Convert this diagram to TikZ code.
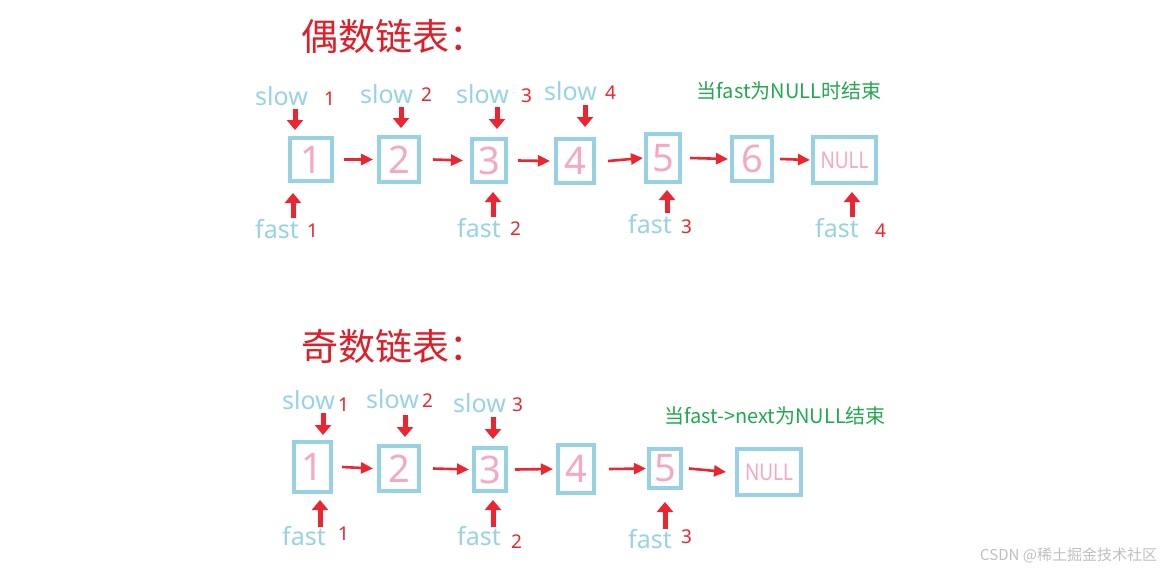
\documentclass[tikz,border=0pt]{standalone}
\usepackage{fontspec}
\setmainfont{Noto Sans}
\newfontfamily\cjk{Noto Sans CJK SC}
\usetikzlibrary{arrows.meta}
\definecolor{boxblue}{RGB}{150,210,228}
\definecolor{ptrblue}{RGB}{150,212,228}
\definecolor{digitpink}{RGB}{245,168,195}
\definecolor{arrowred}{RGB}{235,38,48}
\definecolor{titlered}{RGB}{225,30,40}
\definecolor{notegreen}{RGB}{34,168,78}
\tikzset{
  lbox/.style={draw=boxblue, line width=4pt, inner sep=0pt, text=digitpink, font=\fontsize{38}{40}\selectfont},
  nullbox/.style={lbox, font=\fontsize{21}{23}\selectfont},
  harrow/.style={draw=arrowred, line width=2.6pt, -{Triangle[length=12pt,width=11pt]}},
  varrow/.style={draw=arrowred, line width=5pt, -{Triangle[length=10pt,width=16pt]}},
  ptr/.style={text=ptrblue, inner sep=0pt, anchor=base west, font=\fontsize{25}{28}\selectfont},
  idx/.style={text=arrowred, inner sep=0pt, anchor=base west, font=\fontsize{19}{21}\selectfont},
  ttl/.style={text=titlered, inner sep=0pt, anchor=west, font=\cjk\fontsize{37}{40}\selectfont},
  note/.style={text=notegreen, inner sep=0pt, font=\cjk\fontsize{20}{22}\selectfont},
  wmark/.style={text=black!25, inner sep=0pt, font=\cjk\fontsize{15}{17}\selectfont},
}
\begin{document}
\begin{tikzpicture}[x=1pt,y=-1pt]
\useasboundingbox[fill=white] (0,0) rectangle (1173,574);

% ---------- titles ----------
\node[ttl] (title1) at (301,36) {偶数链表：};
\node[ttl] (title2) at (301,346) {奇数链表：};

% ---------- top row (even) ----------
\node[lbox, minimum width=42pt, minimum height=43pt] (t1) at (311,159.5) {1};
\node[lbox, minimum width=40pt, minimum height=45pt] (t2) at (399,159.5) {2};
\node[lbox, minimum width=34pt, minimum height=43pt] (t3) at (489,160.5) {3};
\node[lbox, minimum width=38pt, minimum height=44pt] (t4) at (575,161) {4};
\node[lbox, minimum width=34pt, minimum height=48pt] (t5) at (663,158) {5};
\node[lbox, minimum width=40pt, minimum height=44pt] (t6) at (752,159) {6};
\node[nullbox, minimum width=63pt, minimum height=46pt] (tN) at (844.5,160) {\scalebox{0.9}[1.1]{NULL}};

\draw[harrow] ([xshift=10pt]t1.east) -- ([xshift=-4pt]t2.west);
\draw[harrow] ([xshift=12pt]t2.east) -- ([xshift=-7pt]t3.west);
\draw[harrow] ([xshift=10pt]t3.east) -- ([xshift=-4pt]t4.west);
\draw[harrow] ([xshift=12pt]t4.east) -- ([xshift=-1pt]t5.west);
\draw[harrow] ([xshift=8pt]t5.east) -- ([xshift=-2pt]t6.west);
\draw[harrow] ([xshift=6pt]t6.east) -- ([xshift=-1pt]tN.west);

\node[note] (note1) at (789,91) {当fast为NULL时结束};

% slow labels (top)
\node[ptr] (ts1l) at (255,105) {slow};  \node[idx] (ts1n) at (324,105) {1};
\node[ptr] (ts2l) at (360,103) {slow};  \node[idx] (ts2n) at (421,101) {2};
\node[ptr] (ts3l) at (456,103) {slow};  \node[idx] (ts3n) at (521,102) {3};
\node[ptr] (ts4l) at (544,100) {slow};  \node[idx] (ts4n) at (605,99) {4};
% fast labels (top)
\node[ptr] (tf1l) at (255,238) {fast};  \node[idx] (tf1n) at (307,237) {1};
\node[ptr] (tf2l) at (457,237) {fast};  \node[idx] (tf2n) at (510,235) {2};
\node[ptr] (tf3l) at (628,233) {fast};  \node[idx] (tf3n) at (681,233) {3};
\node[ptr] (tf4l) at (815,237) {fast};  \node[idx] (tf4n) at (875,237) {4};

% pointer arrows (top)
\coordinate (ts1) at (295,109);
\coordinate (ts2) at (401,107);
\coordinate (ts3) at (497,107);
\coordinate (ts4) at (585,105);
\draw[varrow] (ts1) -- ([yshift=6pt]ts1 |- t1.north);
\draw[varrow] (ts2) -- ([yshift=7pt]ts2 |- t2.north);
\draw[varrow] (ts3) -- ([yshift=8pt]ts3 |- t3.north);
\draw[varrow] (ts4) -- ([yshift=10pt]ts4 |- t4.north);
\coordinate (tf1) at (293,218);
\coordinate (tf2) at (493,217);
\coordinate (tf3) at (667,213);
\coordinate (tf4) at (852,217);
\draw[varrow] (tf1) -- ([yshift=-10pt]tf1 |- t1.south);
\draw[varrow] (tf2) -- ([yshift=-8pt]tf2 |- t3.south);
\draw[varrow] (tf3) -- ([yshift=-6pt]tf3 |- t5.south);
\draw[varrow] (tf4) -- ([yshift=-7pt]tf4 |- tN.south);

% ---------- bottom row (odd) ----------
\node[lbox, minimum width=37pt, minimum height=50pt] (b1) at (312.5,467) {1};
\node[lbox, minimum width=40pt, minimum height=45pt] (b2) at (399,468.5) {2};
\node[lbox, minimum width=32pt, minimum height=43pt] (b3) at (490,469.5) {3};
\node[lbox, minimum width=36pt, minimum height=48pt] (b4) at (576,469) {4};
\node[lbox, minimum width=32pt, minimum height=39pt] (b5) at (665,468.5) {5};
\node[nullbox, minimum width=64pt, minimum height=46pt] (bN) at (769,472) {\scalebox{0.9}[1.1]{NULL}};

\draw[harrow] ([xshift=9pt]b1.east) -- ([xshift=-4pt]b2.west);
\draw[harrow] ([xshift=12pt]b2.east) -- ([xshift=-3pt]b3.west);
\draw[harrow] ([xshift=7pt]b3.east) -- ([xshift=-3pt]b4.west);
\draw[harrow] ([xshift=13pt]b4.east) -- ([xshift=-1pt]b5.west);
\draw[harrow] ([xshift=6pt]b5.east) -- ([xshift=-9pt]bN.west);

\node[note] (note2) at (775,416) {当fast->next为NULL结束};

% slow labels (bottom)
\node[ptr] (bs1l) at (282,409) {slow};  \node[idx] (bs1n) at (338,411) {1};
\node[ptr] (bs2l) at (366,408) {slow};  \node[idx] (bs2n) at (422,407) {2};
\node[ptr] (bs3l) at (453,412) {slow};  \node[idx] (bs3n) at (512,411) {3};
% fast labels (bottom)
\node[ptr] (bf1l) at (282,545) {fast};  \node[idx] (bf1n) at (338,540) {1};
\node[ptr] (bf2l) at (457,545) {fast};  \node[idx] (bf2n) at (511,548) {2};
\node[ptr] (bf3l) at (628,548) {fast};  \node[idx] (bf3n) at (681,543) {3};

% pointer arrows (bottom)
\coordinate (bs1) at (323,413);
\coordinate (bs2) at (405,415);
\coordinate (bs3) at (493,417);
\draw[varrow] (bs1) -- ([yshift=5pt]bs1 |- b1.north);
\draw[varrow] (bs2) -- ([yshift=7pt]bs2 |- b2.north);
\draw[varrow] (bs3) -- ([yshift=7pt]bs3 |- b3.north);
\coordinate (bf1) at (320,527);
\coordinate (bf2) at (493,527);
\coordinate (bf3) at (665,529);
\draw[varrow] (bf1) -- ([yshift=-6pt]bf1 |- b1.south);
\draw[varrow] (bf2) -- ([yshift=-7pt]bf2 |- b3.south);
\draw[varrow] (bf3) -- ([yshift=-12pt]bf3 |- b5.south);

% watermark
\node[wmark, anchor=west] (wm) at (980,555) {CSDN @稀土掘金技术社区};
\end{tikzpicture}
\end{document}
